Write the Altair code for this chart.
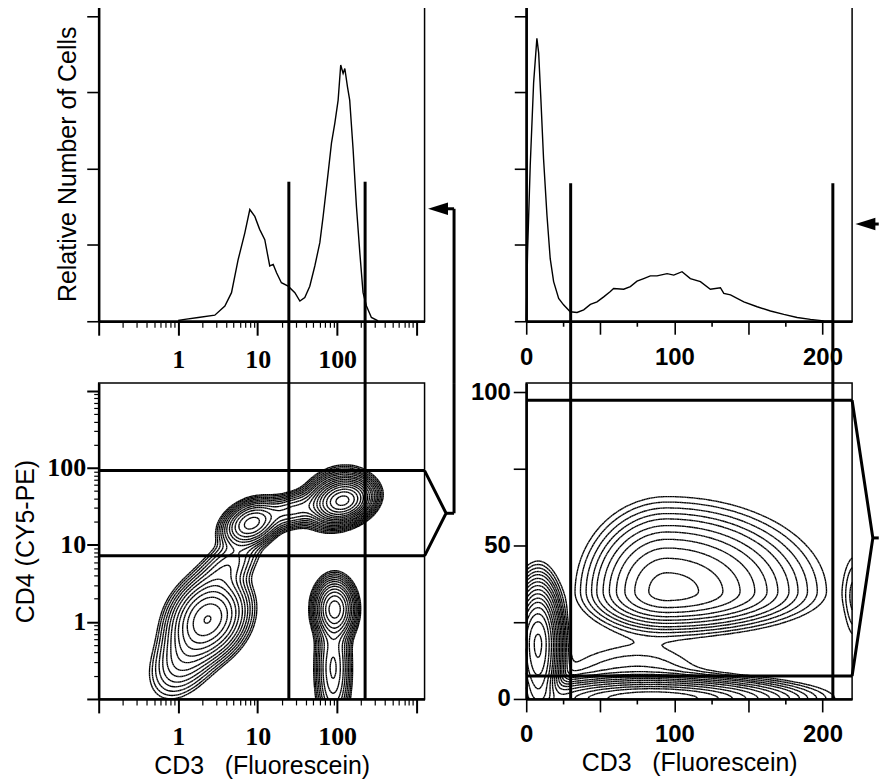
import numpy as np
import pandas as pd
import altair as alt

# ---------------- data ----------------
# top-left histogram, CD3 fluorescence on a log axis
hist_log_x = [1.0, 1.21, 1.79, 2.89, 3.87, 4.69, 5.69, 6.90, 7.97, 9.21, 10.6, 12.3, 14.2, 15.7,
              17.3, 19.9, 24.2, 29.4, 34.0, 39.2, 45.3, 52.4, 60.6, 66.7, 77.1, 84.9, 93.5, 103,
              111, 119, 125, 135, 144, 159, 175, 193, 212, 234, 270, 328]
hist_log_y = [0.02, 0.05, 0.10, 0.16, 0.40, 0.75, 1.62, 2.32, 2.93, 2.75, 2.41, 2.14, 1.45, 1.49,
              1.27, 1.01, 0.92, 0.75, 0.53, 0.62, 0.92, 1.45, 2.06, 2.75, 3.89, 4.67, 5.19, 5.80,
              6.72, 6.50, 6.63, 6.15, 5.80, 4.50, 3.01, 1.80, 0.75, 0.40, 0.10, 0.01]

# top-right histogram, CD3 fluorescence on a linear axis
hist_lin_x = [0.0, 0.9, 2.7, 5.0, 7.2, 8.4, 9.9, 11.7, 14.0, 16.2, 18.5, 21.9, 25.2, 29.7, 34.3,
              38.8, 43.3, 47.8, 52.3, 56.8, 59.0, 65.8, 70.3, 74.8, 79.3, 83.8, 88.3, 95.1, 99.6,
              105.2, 110.8, 117.6, 124.3, 131.1, 133.4, 137.9, 146.9, 155.9, 164.9, 173.9, 182.9,
              191.9, 200.9, 207.7]
hist_lin_y = [0.0, 1.82, 4.08, 6.26, 7.42, 7.04, 5.82, 4.26, 2.78, 1.64, 1.04, 0.60, 0.43, 0.25,
              0.23, 0.30, 0.44, 0.51, 0.64, 0.78, 0.86, 0.84, 0.91, 1.05, 1.12, 1.19, 1.19, 1.25,
              1.21, 1.30, 1.12, 1.04, 0.84, 0.88, 0.73, 0.69, 0.51, 0.38, 0.27, 0.18, 0.10, 0.05,
              0.01, 0.0]

# gates
gate_log_x = [24.7, 225.0]
gate_log_y = [7.2, 92.0]
gate_log_top = 3.66          # where the CD3 gate lines start in the upper histogram
gate_lin_x = [30.0, 207.0]
gate_lin_y = [7.5, 97.4]
gate_lin_top = 3.62

# connectors (brackets and arrows)
bracket_log_tip = [2350.0, 25.7]
connector_log_x = 2960.0
arrow_log = [1860.0, 2.95]
bracket_lin_tip = [234.0, 52.5]
connector_lin_x = 238.0
arrow_lin = [229.0, 2.55]

# cell populations, bottom-left (log10 CD3, log10 CD4)
pop_log_u = [0.38, 0.12, 0.62, 0.92, 1.45, 2.08, 2.00, 1.97, 1.95]
pop_log_v = [0.05, -0.40, 0.72, 1.28, 1.45, 1.57, 1.60, 0.17, -0.60]
pop_log_su = [0.23, 0.24, 0.22, 0.17, 0.22, 0.16, 0.19, 0.12, 0.11]
pop_log_sv = [0.25, 0.30, 0.22, 0.14, 0.12, 0.12, 0.17, 0.18, 0.40]
pop_log_rho = [0.20, 0.45, 0.55, 0.30, 0.40, 0.20, 0.20, 0.0, 0.0]
pop_log_w = [1.0, 0.22, 0.16, 0.9, 0.35, 3.0, 0.8, 1.2, 0.35]
levels_log = [0.03, 0.04, 0.055, 0.075, 0.1, 0.135, 0.18, 0.25, 0.33, 0.45, 0.6, 0.8,
              1.05, 1.4, 1.9, 2.5, 3.3]

# cell populations, bottom-right (linear CD3, linear CD4)
pop_lin_x = [95.0, 8.0, 85.0, 75.0, 222.0]
pop_lin_y = [35.0, 18.0, 0.0, 6.0, 33.0]
pop_lin_sxl = [23.0, 7.0, 40.0, 35.0, 5.0]
pop_lin_sxr = [40.0, 6.5, 42.0, 30.0, 5.0]
pop_lin_syl = [5.5, 12.0, 3.0, 6.0, 9.0]
pop_lin_syh = [11.5, 8.5, 3.0, 8.0, 9.0]
pop_lin_w = [0.75, 3.0, 1.5, 0.05, 0.05]
levels_lin = [0.02, 0.03, 0.045, 0.065, 0.09, 0.13, 0.18, 0.25, 0.35, 0.48, 0.65, 0.85,
              1.15, 1.55, 2.1, 2.8]

LOG_DOMAIN = [0.1, 1260.0]
LIN_X_DOMAIN = [0.0, 220.0]
LIN_Y_DOMAIN = [0.0, 103.0]
HIST_DOMAIN = [0.0, 8.26]

# ---------------- layout ----------------
W = 327
H_TOP = 316
H_BOT = 317
GAP_ROW = 62
GAP_COL = 102


# ---------------- contour extraction (marching squares) ----------------
def contour_segments(xs, ys, Z, levels):
    z00 = Z[:-1, :-1]
    z01 = Z[:-1, 1:]
    z10 = Z[1:, :-1]
    z11 = Z[1:, 1:]
    shp = z00.shape
    X0 = np.broadcast_to(xs[:-1][None, :], shp)
    X1 = np.broadcast_to(xs[1:][None, :], shp)
    Y0 = np.broadcast_to(ys[:-1][:, None], shp)
    Y1 = np.broadcast_to(ys[1:][:, None], shp)
    table = {1: [(3, 0)], 2: [(0, 1)], 3: [(3, 1)], 4: [(1, 2)], 5: [(3, 0), (1, 2)],
             6: [(0, 2)], 7: [(3, 2)], 8: [(2, 3)], 9: [(0, 2)], 10: [(0, 1), (2, 3)],
             11: [(1, 2)], 12: [(1, 3)], 13: [(0, 1)], 14: [(3, 0)]}
    out = []
    for L in levels:
        def t(a, b):
            d = b - a
            d = np.where(np.abs(d) < 1e-12, 1e-12, d)
            return np.clip((L - a) / d, 0, 1)
        idx = ((z00 > L) * 1 + (z01 > L) * 2 + (z11 > L) * 4 + (z10 > L) * 8)
        E = {
            0: (X0 + t(z00, z01) * (X1 - X0), Y0),
            1: (X1, Y0 + t(z01, z11) * (Y1 - Y0)),
            2: (X0 + t(z10, z11) * (X1 - X0), Y1),
            3: (X0, Y0 + t(z00, z10) * (Y1 - Y0)),
        }
        for case, pairs in table.items():
            m = idx == case
            if not m.any():
                continue
            for a, b in pairs:
                out.append(np.column_stack([E[a][0][m], E[a][1][m], E[b][0][m], E[b][1][m]]))
    return np.vstack(out)


# bottom-left density in log space
gu = np.linspace(np.log10(LOG_DOMAIN[0]), np.log10(LOG_DOMAIN[1]), 170)
gv = np.linspace(np.log10(LOG_DOMAIN[0]), np.log10(LOG_DOMAIN[1]), 170)
UU, VV = np.meshgrid(gu, gv)
Zl = np.zeros_like(UU)
for cu, cv, su, sv, rho, w in zip(pop_log_u, pop_log_v, pop_log_su, pop_log_sv, pop_log_rho, pop_log_w):
    du = (UU - cu) / su
    dv = (VV - cv) / sv
    Zl += w * np.exp(-0.5 / (1 - rho ** 2) * (du ** 2 - 2 * rho * du * dv + dv ** 2))
seg_l = contour_segments(gu, gv, Zl, levels_log)
contour_log = pd.DataFrame({
    "x": np.round(10 ** seg_l[:, 0], 5), "y": np.round(10 ** seg_l[:, 1], 5),
    "x2": np.round(10 ** seg_l[:, 2], 5), "y2": np.round(10 ** seg_l[:, 3], 5)})

# bottom-right density in linear space
gx = np.linspace(LIN_X_DOMAIN[0], LIN_X_DOMAIN[1], 190)
gy = np.linspace(LIN_Y_DOMAIN[0], LIN_Y_DOMAIN[1], 130)
XX, YY = np.meshgrid(gx, gy)
Zr = np.zeros_like(XX)
for cx, cy, sxl, sxr, syl, syh, w in zip(pop_lin_x, pop_lin_y, pop_lin_sxl, pop_lin_sxr,
                                         pop_lin_syl, pop_lin_syh, pop_lin_w):
    sx = np.where(XX < cx, sxl, sxr)
    sy = np.where(YY < cy, syl, syh)
    Zr += w * np.exp(-0.5 * (((XX - cx) / sx) ** 2 + ((YY - cy) / sy) ** 2))
seg_r = contour_segments(gx, gy, Zr, levels_lin)
contour_lin = pd.DataFrame({
    "x": np.round(seg_r[:, 0], 3), "y": np.round(seg_r[:, 1], 3),
    "x2": np.round(seg_r[:, 2], 3), "y2": np.round(seg_r[:, 3], 3)})

# ---------------- axes ----------------
log_ticks = [round(m * 10.0 ** e, 6) for e in range(-1, 4) for m in range(1, 10)
             if m * 10.0 ** e <= LOG_DOMAIN[1]]
MAJOR_LOG = "abs(log(datum.value)/LN10 - round(log(datum.value)/LN10)) < 0.000001"
LOG_LABELS = "datum.value==1 ? '1' : datum.value==10 ? '10' : datum.value==100 ? '100' : ''"

SERIF = "Liberation Serif"
SANS = "Liberation Sans"
TITLE = dict(titleFont=SANS, titleFontSize=25, titleFontWeight="normal")


def log_axis(orient, title=None):
    horizontal = orient == "bottom"
    kw = dict(values=log_ticks, orient=orient,
              tickSize={"condition": {"test": MAJOR_LOG, "value": 14 if horizontal else 12},
                        "value": 6 if horizontal else 5},
              tickWidth={"condition": {"test": MAJOR_LOG, "value": 2}, "value": 1.2},
              labelExpr=LOG_LABELS, labelFont=SERIF, labelFontSize=26,
              labelFontWeight="bold", labelOverlap=False, labelFlush=False,
              labelPadding=11 if horizontal else 1, grid=False)
    if title:
        kw.update(title=title, titlePadding=4 if horizontal else 8, **TITLE)
    else:
        kw.update(title=None)
    return alt.Axis(**kw)


def hist_y_axis(title=None):
    kw = dict(values=list(range(9)), orient="left", labels=False,
              tickSize={"condition": {"test": "datum.value % 2 == 0", "value": 12}, "value": 5},
              tickWidth=1.6, grid=False)
    if title:
        kw.update(title=title, titlePadding=5, **TITLE)
    else:
        kw.update(title=None)
    return alt.Axis(**kw)


def lin_x_axis(title=None):
    kw = dict(values=[0, 25, 50, 75, 100, 125, 150, 175, 200], orient="bottom",
              tickSize={"condition": {"test": "datum.value % 50 == 0", "value": 13}, "value": 5},
              tickWidth=1.6,
              labelExpr="datum.value % 100 == 0 ? datum.label : ''",
              labelFont=SANS, labelFontSize=24, labelFontWeight="bold", labelOverlap=False,
              labelFlush=False, labelPadding=11, grid=False)
    if title:
        kw.update(title=title, titlePadding=4, **TITLE)
    else:
        kw.update(title=None)
    return alt.Axis(**kw)


def lin_y_axis():
    return alt.Axis(values=[0, 12.5, 25, 37.5, 50, 62.5, 75, 87.5, 100], orient="left",
                    tickSize={"condition": {"test": "datum.value % 25 == 0", "value": 13}, "value": 4},
                    tickWidth=1.6,
                    labelExpr="datum.value % 50 == 0 ? datum.label : ''",
                    labelFont=SANS, labelFontSize=24, labelFontWeight="bold",
                    labelOverlap=False, labelFlush=False, labelPadding=3, grid=False, title=None)


logX = alt.Scale(type="log", domain=LOG_DOMAIN, nice=False)
logY = alt.Scale(type="log", domain=LOG_DOMAIN, nice=False)
linX = alt.Scale(domain=LIN_X_DOMAIN, nice=False, zero=False)
linY = alt.Scale(domain=LIN_Y_DOMAIN, nice=False, zero=False)
histY = alt.Scale(domain=HIST_DOMAIN, nice=False, zero=False)

THICK = 3
ARROW_SIZE = 400
ARROW_SHAPE = "M -1 0 L 1 -0.62 L 1 0.62 Z"
CONTOUR_W = 1.35

# ---------------- top-left: log histogram ----------------
df_hl = pd.DataFrame({"x": hist_log_x, "y": hist_log_y, "o": range(len(hist_log_x))})
tl_hist = alt.Chart(df_hl).mark_line(color="black", strokeWidth=1.4).encode(
    x=alt.X("x:Q", scale=logX, axis=log_axis("bottom")),
    y=alt.Y("y:Q", scale=histY, axis=hist_y_axis("Relative Number of Cells")),
    order="o:Q")
tl_gates = alt.Chart(pd.DataFrame({"x": gate_log_x, "y": [gate_log_top] * 2})).mark_rule(
    color="black", strokeWidth=THICK).encode(
    x=alt.X("x:Q", scale=logX), y=alt.Y("y:Q", scale=histY), y2=alt.value(H_TOP + GAP_ROW))
tl_arrow = alt.Chart(pd.DataFrame({"x": [arrow_log[0]], "y": [arrow_log[1]]})).mark_point(
    shape=ARROW_SHAPE, filled=True, size=ARROW_SIZE, color="black", opacity=1).encode(
    x=alt.X("x:Q", scale=logX), y=alt.Y("y:Q", scale=histY))
tl_shaft = alt.Chart(pd.DataFrame({"x": [arrow_log[0]], "x2": [connector_log_x], "y": [arrow_log[1]]})).mark_rule(
    color="black", strokeWidth=THICK).encode(
    x=alt.X("x:Q", scale=logX), x2="x2:Q", y=alt.Y("y:Q", scale=histY))
tl_vert = alt.Chart(pd.DataFrame({"x": [connector_log_x], "y": [arrow_log[1]]})).mark_rule(
    color="black", strokeWidth=THICK).encode(
    x=alt.X("x:Q", scale=logX), y=alt.Y("y:Q", scale=histY), y2=alt.value(H_TOP + GAP_ROW))
tl = alt.layer(tl_hist, tl_gates, tl_shaft, tl_vert, tl_arrow).properties(width=W, height=H_TOP)

# ---------------- top-right: linear histogram ----------------
df_hr = pd.DataFrame({"x": hist_lin_x, "y": hist_lin_y, "o": range(len(hist_lin_x))})
tr_hist = alt.Chart(df_hr).mark_line(color="black", strokeWidth=1.4).encode(
    x=alt.X("x:Q", scale=linX, axis=lin_x_axis()),
    y=alt.Y("y:Q", scale=histY, axis=hist_y_axis()),
    order="o:Q")
tr_gates = alt.Chart(pd.DataFrame({"x": gate_lin_x, "y": [gate_lin_top] * 2})).mark_rule(
    color="black", strokeWidth=THICK).encode(
    x=alt.X("x:Q", scale=linX), y=alt.Y("y:Q", scale=histY), y2=alt.value(H_TOP + GAP_ROW))
tr_arrow = alt.Chart(pd.DataFrame({"x": [arrow_lin[0]], "y": [arrow_lin[1]]})).mark_point(
    shape=ARROW_SHAPE, filled=True, size=ARROW_SIZE, color="black", opacity=1).encode(
    x=alt.X("x:Q", scale=linX), y=alt.Y("y:Q", scale=histY))
tr_shaft = alt.Chart(pd.DataFrame({"x": [arrow_lin[0]], "x2": [connector_lin_x], "y": [arrow_lin[1]]})).mark_rule(
    color="black", strokeWidth=THICK).encode(
    x=alt.X("x:Q", scale=linX), x2="x2:Q", y=alt.Y("y:Q", scale=histY))
tr = alt.layer(tr_hist, tr_gates, tr_shaft, tr_arrow).properties(width=W, height=H_TOP)

# ---------------- bottom-left: log contour plot ----------------
bl_cont = alt.Chart(contour_log).mark_rule(color="black", strokeWidth=CONTOUR_W).encode(
    x=alt.X("x:Q", scale=logX, axis=log_axis("bottom", "CD3\u00a0\u00a0\u00a0(Fluorescein)")),
    y=alt.Y("y:Q", scale=logY, axis=log_axis("left", "CD4 (CY5-PE)")),
    x2="x2:Q", y2="y2:Q")
bl_vg = alt.Chart(pd.DataFrame({"x": gate_log_x})).mark_rule(color="black", strokeWidth=THICK).encode(
    x=alt.X("x:Q", scale=logX), y=alt.value(0), y2=alt.value(H_BOT))
bl_hg = alt.Chart(pd.DataFrame({"y": gate_log_y})).mark_rule(color="black", strokeWidth=THICK).encode(
    y=alt.Y("y:Q", scale=logY), x=alt.value(0), x2=alt.value(W))
df_bb = pd.DataFrame({"x": [LOG_DOMAIN[1], bracket_log_tip[0], LOG_DOMAIN[1]],
                      "y": [gate_log_y[1], bracket_log_tip[1], gate_log_y[0]], "o": [0, 1, 2]})
bl_br = alt.Chart(df_bb).mark_line(color="black", strokeWidth=THICK).encode(
    x=alt.X("x:Q", scale=logX), y=alt.Y("y:Q", scale=logY), order="o:Q")
bl_stub = alt.Chart(pd.DataFrame({"x": [bracket_log_tip[0]], "x2": [connector_log_x],
                                  "y": [bracket_log_tip[1]]})).mark_rule(
    color="black", strokeWidth=THICK).encode(
    x=alt.X("x:Q", scale=logX), x2="x2:Q", y=alt.Y("y:Q", scale=logY))
bl_vert = alt.Chart(pd.DataFrame({"x": [connector_log_x], "y": [bracket_log_tip[1]]})).mark_rule(
    color="black", strokeWidth=THICK).encode(
    x=alt.X("x:Q", scale=logX), y=alt.Y("y:Q", scale=logY), y2=alt.value(0))
bl = alt.layer(bl_cont, bl_vg, bl_hg, bl_br, bl_stub, bl_vert).properties(width=W, height=H_BOT)

# ---------------- bottom-right: linear contour plot ----------------
br_cont = alt.Chart(contour_lin).mark_rule(color="black", strokeWidth=CONTOUR_W).encode(
    x=alt.X("x:Q", scale=linX, axis=lin_x_axis("CD3\u00a0\u00a0\u00a0(Fluorescein)")),
    y=alt.Y("y:Q", scale=linY, axis=lin_y_axis()),
    x2="x2:Q", y2="y2:Q")
br_vg = alt.Chart(pd.DataFrame({"x": gate_lin_x})).mark_rule(color="black", strokeWidth=THICK).encode(
    x=alt.X("x:Q", scale=linX), y=alt.value(0), y2=alt.value(H_BOT))
br_hg = alt.Chart(pd.DataFrame({"y": gate_lin_y})).mark_rule(color="black", strokeWidth=THICK).encode(
    y=alt.Y("y:Q", scale=linY), x=alt.value(0), x2=alt.value(W))
df_rb = pd.DataFrame({"x": [LIN_X_DOMAIN[1], bracket_lin_tip[0], LIN_X_DOMAIN[1]],
                      "y": [gate_lin_y[1], bracket_lin_tip[1], gate_lin_y[0]], "o": [0, 1, 2]})
br_br = alt.Chart(df_rb).mark_line(color="black", strokeWidth=THICK).encode(
    x=alt.X("x:Q", scale=linX), y=alt.Y("y:Q", scale=linY), order="o:Q")
br_stub = alt.Chart(pd.DataFrame({"x": [bracket_lin_tip[0]], "x2": [connector_lin_x],
                                  "y": [bracket_lin_tip[1]]})).mark_rule(
    color="black", strokeWidth=THICK).encode(
    x=alt.X("x:Q", scale=linX), x2="x2:Q", y=alt.Y("y:Q", scale=linY))
br = alt.layer(br_cont, br_vg, br_hg, br_br, br_stub).properties(width=W, height=H_BOT)

chart = alt.concat(
    tl, tr, bl, br, columns=2,
    spacing={"row": GAP_ROW, "column": GAP_COL}, bounds="flush",
    padding={"left": 5, "top": -4, "right": 0, "bottom": 0},
).configure_view(
    stroke="black", strokeWidth=1.5
).configure_axis(
    domainColor="black", domainWidth=2.5, tickColor="black", labelColor="black",
    titleColor="black"
)

chart.save("out.html", embed_options={"renderer": "svg", "actions": False})
